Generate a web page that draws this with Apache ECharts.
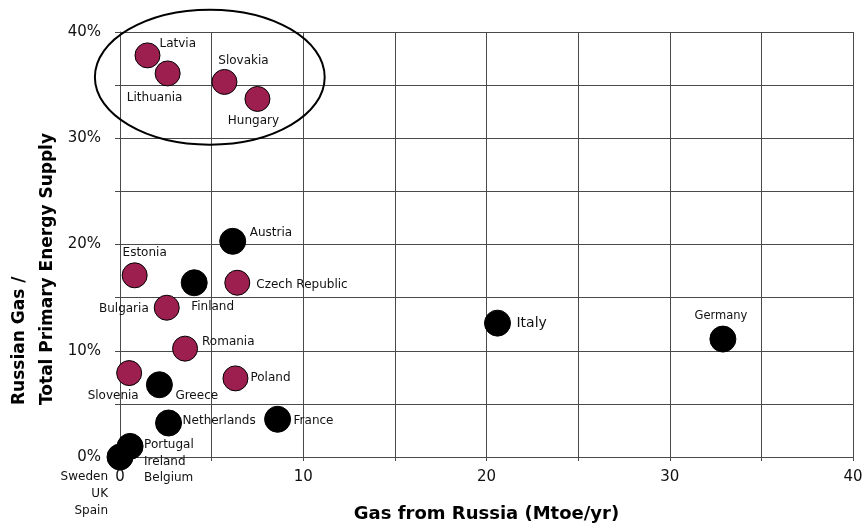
<!DOCTYPE html>
<html>
<head>
<meta charset="utf-8">
<script src="https://cdn.jsdelivr.net/npm/echarts@6/dist/echarts.min.js"></script>
<style>html,body{margin:0;padding:0;background:#fff;}#c{width:867px;height:529px;}</style>
</head>
<body>
<div id="c"></div>
<script>
// ---- data ----
const countries = ['Latvia','Lithuania','Slovakia','Hungary','Estonia','Czech Republic','Bulgaria','Romania','Slovenia','Poland',
  'Austria','Finland','Greece','Netherlands','France','Portugal\nIreland\nBelgium','Sweden\nUK\nSpain','Italy','Germany'];
const gasFromRussia = [1.5,2.6,5.7,7.5,0.8,6.4,2.55,3.55,0.5,6.3,
  6.15,4.05,2.15,2.65,8.6,0.55,0,20.6,32.9];
const russianShareTPES = [37.8,36.1,35.3,33.7,17.1,16.4,14.05,10.2,7.9,7.4,
  20.3,16.4,6.8,3.2,3.55,1.0,0,12.6,11.1];
const isNewMember = [1,1,1,1,1,1,1,1,1,1, 0,0,0,0,0,0,0,0,0];
const xTicks = [0,10,20,30,40];
const yTicks = [0,10,20,30,40];

// ---- label placement (style only) : [align, dx, dy, fontSize] ----
const labelPlace = {
  'Latvia':['left',12,-12,12], 'Lithuania':['center',-13,24,12], 'Slovakia':['center',19,-21,12],
  'Hungary':['center',-4,22,12], 'Estonia':['center',10,-22,12], 'Czech Republic':['left',19,2,12],
  'Bulgaria':['right',-18,1,12], 'Romania':['left',17,-7,12], 'Slovenia':['center',-16,23,12],
  'Poland':['left',15,-1,12], 'Austria':['left',17,-8,12], 'Finland':['left',-3,24,12],
  'Greece':['left',16,11,12], 'Netherlands':['left',14,-2,12], 'France':['left',16,2,12],
  'Portugal\nIreland\nBelgium':['left',14,15,12], 'Sweden\nUK\nSpain':['right',-12,37,12],
  'Italy':['left',19,0,14], 'Germany':['center',-2,-23,11.5]
};

function buildData(flag){
  const out=[];
  countries.forEach((c,i)=>{
    if(isNewMember[i]!==flag) return;
    const p=labelPlace[c];
    out.push({name:c,value:[gasFromRussia[i],russianShareTPES[i]],
      label:{show:true,position:'inside',align:p[0],verticalAlign:'middle',offset:[p[1],p[2]],fontSize:p[3],
        formatter:c,lineHeight:16.7,color:'#111',fontFamily:'DejaVu Sans'}});
  });
  return out;
}

const chart = echarts.init(document.getElementById('c'));
const axisLineStyle = {color:'#4a4a4a',width:1};
chart.setOption({
  animation:false,
  grid:{left:120,right:14,top:32,bottom:72,containLabel:false,outerBoundsMode:'none'},
  xAxis:{type:'value',min:0,max:40,interval:5,
    name:'Gas from Russia (Mtoe/yr)',nameLocation:'middle',nameGap:48,
    nameTextStyle:{fontFamily:'DejaVu Sans',fontWeight:'bold',fontSize:18,color:'#000'},
    axisLine:{show:true,lineStyle:axisLineStyle},
    axisTick:{show:true,length:4,lineStyle:axisLineStyle},
    axisLabel:{margin:13,fontSize:15,color:'#111',fontFamily:'DejaVu Sans',
      formatter:v=>xTicks.includes(v)?String(v):''},
    splitLine:{show:true,lineStyle:axisLineStyle}},
  yAxis:{type:'value',min:0,max:40,interval:5,
    axisLine:{show:true,lineStyle:axisLineStyle},
    axisTick:{show:true,length:5,lineStyle:axisLineStyle},
    axisLabel:{margin:19,fontSize:15,color:'#111',fontFamily:'DejaVu Sans',
      formatter:v=>yTicks.includes(v)?v+'%':''},
    splitLine:{show:true,lineStyle:axisLineStyle}},
  series:[
    {type:'scatter',name:'new',symbolSize:25,clip:false,z:3,
      itemStyle:{color:'#9c1f50',borderColor:'#000',borderWidth:1,opacity:1},
      data:buildData(1)},
    {type:'scatter',name:'old',symbolSize:26,clip:false,z:3,
      itemStyle:{color:'#000',borderColor:'#000',borderWidth:1,opacity:1},
      data:buildData(0)}
  ]
});

// ellipse annotation in data units
const ell = {cx:4.9, cy:35.75, rx:6.27, ry:6.35};
const c0 = chart.convertToPixel({gridIndex:0},[ell.cx,ell.cy]);
const c1 = chart.convertToPixel({gridIndex:0},[ell.cx+ell.rx,ell.cy+ell.ry]);
chart.setOption({graphic:[
  {type:'ellipse',shape:{cx:c0[0],cy:c0[1],rx:Math.abs(c1[0]-c0[0]),ry:Math.abs(c1[1]-c0[1])},
    style:{fill:'none',stroke:'#000',lineWidth:2},z:10,silent:true},
  {type:'text',x:34,y:405,rotation:Math.PI/2,
    style:{text:'Russian Gas /\nTotal Primary Energy Supply',align:'left',verticalAlign:'middle',
      font:'bold 17px "DejaVu Sans"',lineHeight:28,fill:'#000'}}
]});
</script>
</body>
</html>
